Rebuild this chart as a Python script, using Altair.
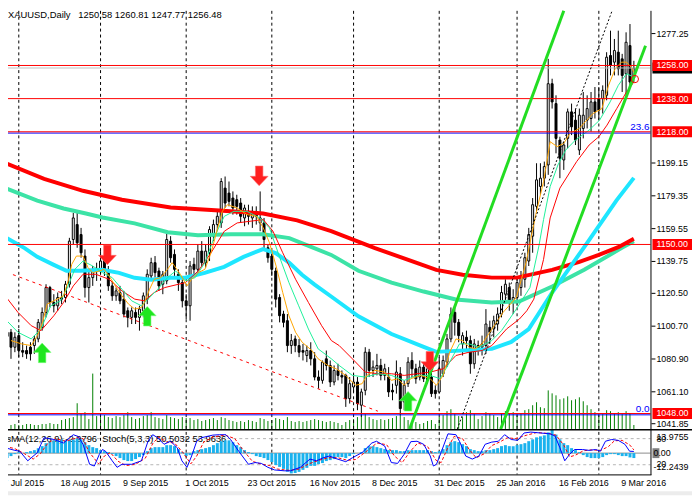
import altair as alt
import pandas as pd

FONT = "Liberation Sans"

# ---------------- values ----------------
# bar index = trading days counted from Mon 27 Jul 2015 (= 0)
bar_i = list(range(2, 164))

opens = [
    1094.5, 1097, 1088, 1095, 1086, 1086, 1088, 1089, 1093, 1100,
    1109, 1124, 1115, 1113, 1118, 1118, 1126, 1153, 1162, 1156,
    1143, 1124, 1130, 1134, 1134, 1141, 1134, 1125, 1119, 1121,
    1117, 1110, 1106, 1109, 1106, 1110, 1117, 1131, 1139, 1134,
    1126, 1128, 1152, 1144, 1132, 1127, 1116, 1113, 1138, 1135,
    1146, 1139, 1145, 1155, 1162, 1163, 1184, 1181, 1178, 1177,
    1175, 1166, 1170, 1166, 1169, 1163, 1163, 1148, 1143, 1134,
    1118, 1108, 1104, 1089, 1093, 1089, 1086, 1083, 1086, 1081,
    1070, 1068, 1081, 1077, 1067, 1074, 1071, 1071, 1057, 1064,
    1067, 1053, 1062, 1085, 1074, 1075, 1077, 1071, 1070, 1062,
    1065, 1072, 1055, 1066, 1080, 1075, 1070, 1076, 1068, 1070,
    1062, 1061, 1072, 1079, 1093, 1109, 1103, 1090, 1094, 1092,
    1078, 1089, 1088, 1089, 1100, 1099, 1102, 1108, 1120, 1124,
    1115, 1118, 1124, 1129, 1140, 1155, 1173, 1185, 1190, 1198,
    1247, 1235, 1213, 1201, 1214, 1230, 1225, 1207, 1220, 1225,
    1226, 1236, 1238, 1238, 1240, 1264, 1260, 1266, 1262, 1253,
    1270, 1250.58,
]
highs = [
    1099, 1099, 1097, 1099, 1091, 1089, 1091, 1095, 1105, 1112,
    1126, 1125, 1120, 1121, 1122, 1128, 1154, 1169, 1170, 1160,
    1147, 1135, 1137, 1139, 1146, 1145, 1137, 1128, 1124, 1125,
    1122, 1112, 1112, 1112, 1113, 1121, 1135, 1142, 1143, 1136,
    1134, 1157, 1155, 1147, 1135, 1129, 1120, 1140, 1142, 1150,
    1152, 1150, 1161, 1165, 1170, 1190, 1191, 1188, 1182, 1180,
    1178, 1174, 1174, 1173, 1173, 1182, 1166, 1150, 1145, 1136,
    1120, 1110, 1108, 1096, 1095, 1093, 1090, 1089, 1091, 1085,
    1074, 1080, 1086, 1080, 1077, 1078, 1074, 1072, 1070, 1072,
    1070, 1063, 1088, 1087, 1080, 1084, 1081, 1078, 1076, 1066,
    1080, 1076, 1068, 1082, 1085, 1078, 1080, 1078, 1082, 1078,
    1065, 1082, 1083, 1096, 1112, 1112, 1105, 1097, 1098, 1095,
    1093, 1092, 1095, 1111, 1104, 1107, 1112, 1125, 1129, 1127,
    1123, 1130, 1134, 1145, 1160, 1178, 1199, 1199, 1200, 1262,
    1250, 1240, 1215, 1212, 1232, 1235, 1232, 1232, 1242, 1240,
    1242, 1245, 1245, 1246, 1266, 1279, 1274, 1279, 1265, 1278,
    1283, 1260.81,
]
lows = [
    1090, 1081, 1085, 1082, 1082, 1081, 1080, 1084, 1091, 1098,
    1106, 1112, 1109, 1110, 1114, 1115, 1124, 1150, 1148, 1142,
    1118, 1115, 1125, 1128, 1132, 1131, 1122, 1116, 1116, 1114,
    1106, 1100, 1102, 1102, 1098, 1106, 1114, 1128, 1130, 1122,
    1120, 1126, 1139, 1131, 1122, 1112, 1105, 1104, 1132, 1133,
    1137, 1136, 1140, 1152, 1158, 1160, 1172, 1173, 1168, 1168,
    1163, 1161, 1162, 1160, 1162, 1158, 1147, 1139, 1131, 1112,
    1103, 1100, 1085, 1084, 1085, 1082, 1080, 1079, 1077, 1068,
    1063, 1066, 1074, 1064, 1065, 1068, 1066, 1052, 1054, 1061,
    1050, 1046, 1059, 1070, 1070, 1071, 1068, 1068, 1058, 1056,
    1060, 1047, 1050, 1064, 1070, 1066, 1068, 1067, 1066, 1058,
    1057, 1060, 1070, 1076, 1091, 1095, 1091, 1083, 1085, 1072,
    1075, 1083, 1083, 1084, 1090, 1094, 1098, 1106, 1115, 1110,
    1108, 1113, 1119, 1124, 1137, 1145, 1170, 1180, 1185, 1192,
    1232, 1205, 1190, 1195, 1208, 1216, 1210, 1204, 1214, 1220,
    1218, 1226, 1225, 1229, 1237, 1252, 1252, 1252, 1242, 1240,
    1246, 1247.77,
]
closes = [
    1097, 1088, 1094, 1086, 1085, 1084, 1084, 1093, 1103, 1109,
    1124, 1115, 1113, 1118, 1117, 1126, 1152, 1166, 1151, 1145,
    1124, 1130, 1134, 1135, 1140, 1134, 1125, 1119, 1122, 1116,
    1108, 1106, 1110, 1106, 1111, 1119, 1132, 1139, 1133, 1125,
    1132, 1153, 1142, 1135, 1127, 1116, 1113, 1137, 1135, 1146,
    1139, 1146, 1159, 1162, 1167, 1188, 1175, 1176, 1172, 1173,
    1167, 1172, 1167, 1170, 1167, 1166, 1153, 1142, 1135, 1117,
    1107, 1103, 1089, 1092, 1089, 1085, 1085, 1086, 1081, 1070,
    1068, 1079, 1077, 1067, 1074, 1071, 1070, 1057, 1066, 1067,
    1054, 1061, 1085, 1074, 1076, 1077, 1071, 1075, 1061, 1061,
    1073, 1051, 1065, 1079, 1075, 1069, 1076, 1069, 1075, 1060,
    1060, 1075, 1080, 1093, 1108, 1103, 1095, 1095, 1092, 1078,
    1090, 1087, 1090, 1102, 1097, 1104, 1108, 1121, 1126, 1115,
    1118, 1127, 1130, 1142, 1156, 1174, 1189, 1190, 1197, 1247,
    1236, 1214, 1202, 1210, 1230, 1221, 1213, 1228, 1228, 1232,
    1236, 1230, 1231, 1243, 1263, 1258, 1267, 1256, 1252, 1272,
    1248, 1256.48,
]
volumes = [
    4, 4, 5, 4, 4, 5, 5, 4, 4, 5,
    5, 6, 5, 5, 9, 10, 11, 12, 26, 15,
    17, 10, 56, 13, 12, 14, 12, 11, 13, 12,
    14, 17, 12, 10, 11, 13, 14, 17, 12, 11,
    10, 14, 12, 11, 10, 12, 11, 11, 9, 10,
    8, 9, 10, 11, 9, 12, 11, 9, 8, 7,
    8, 7, 9, 8, 7, 11, 10, 8, 9, 11,
    10, 9, 12, 8, 7, 8, 7, 8, 9, 10,
    9, 8, 7, 8, 7, 6, 4, 7, 9, 10,
    12, 14, 15, 12, 10, 9, 10, 9, 10, 11,
    13, 15, 12, 9, 8, 7, 5, 6, 8, 9,
    5, 12, 14, 18, 20, 15, 13, 12, 17, 19,
    15, 10, 13, 17, 15, 14, 12, 16, 18, 15,
    17, 14, 16, 19, 20, 24, 27, 22, 21, 39,
    36, 34, 30, 31, 33, 29, 30, 32, 28, 24,
    20, 17, 14, 15, 19, 18, 16, 17, 15, 18,
    16, 4,
]
osma = [
    -3.0, -1.8, -0.6, 0.6, 0.0, 0.6, 1.2, 1.8, 3.0, 4.2,
    6.0, 7.2, 7.7, 7.7, 8.3, 7.7, 7.7, 8.3, 8.9, 8.3,
    6.6, 4.8, 3.6, 3.0, 1.8, 1.2, 0.6, -0.6, -1.8, -3.0,
    -4.2, -4.8, -4.8, -3.6, -2.4, -1.2, 1.2, 3.0, 3.6, 3.6,
    3.6, 4.8, 4.8, 4.2, 2.4, 0.6, -1.8, -1.2, 1.2, 1.8,
    2.4, 3.0, 3.6, 4.8, 6.0, 7.2, 7.7, 7.7, 6.6, 4.8,
    3.6, 1.8, 0.6, -0.6, -1.8, -2.4, -3.0, -4.2, -5.4, -7.2,
    -8.3, -9.5, -11.2, -12.2439, -12.0, -11.3, -10.1, -8.9, -7.7, -7.7,
    -6.6, -6.0, -4.8, -4.2, -3.6, -2.4, -2.4, -3.0, -1.8, -0.6,
    0.0, 0.6, 3.0, 4.2, 4.2, 3.6, 3.0, 2.4, 1.8, 1.8,
    1.8, 1.2, 1.2, 1.8, 1.8, 1.8, 1.8, 1.8, 1.8, 1.2,
    0.6, 1.2, 2.4, 4.8, 6.6, 7.2, 6.6, 5.4, 4.2, 2.4,
    1.8, 1.2, 1.2, 1.8, 1.8, 2.4, 3.0, 4.2, 4.8, 4.2,
    4.2, 4.8, 5.4, 6.0, 7.2, 8.3, 9.5, 10.1, 10.7, 12.5,
    13.9755, 11.2, 8.3, 6.0, 4.8, 3.0, 1.8, 0.6, -1.2, -2.4,
    -3.0, -3.0, -3.0, -2.4, -1.2, -0.6, -0.6, -1.2, -1.8, -1.8,
    -2.6, -2.9796,
]
for arr in (opens, highs, lows, closes, volumes, osma):
    assert len(arr) == len(bar_i)

# moving averages, sampled (bar index, price)
ma_red_thick = [(1.5, 1199.1), (11.5, 1189.6), (21.5, 1182.4), (31.5, 1177.0), (44, 1172.3),
                (56.5, 1170.5), (67.75, 1168.7), (76.5, 1164.5), (85.25, 1158.0), (96.5, 1147.8),
                (106.5, 1139.5), (112.25, 1134.7), (119, 1131.7), (126.5, 1130.0), (133, 1130.0),
                (142, 1134.7), (149, 1139.5), (154, 1143.7), (159, 1148.4), (163, 1153.5)]
ma_mint_thick = [(1.5, 1184.0), (9.75, 1176.5), (16.5, 1171.7), (22.25, 1168.7), (26.5, 1166.3),
                 (34.75, 1162.7), (43.25, 1157.4), (51, 1155.6), (59.5, 1156.2), (67.75, 1156.2),
                 (74.5, 1153.8), (80.25, 1148.4), (85.25, 1143.7), (92.25, 1134.1), (100.75, 1127.0),
                 (109, 1121.6), (117.25, 1116.8), (126.5, 1115.0), (133.5, 1115.6), (142, 1124.6),
                 (150.25, 1134.7), (160.25, 1148.4), (163, 1152.0)]
ma_cyan_thick = [(1.5, 1154.4), (6.5, 1147.8), (9.75, 1142.5), (14, 1137.7), (17.25, 1134.1),
                 (20.75, 1134.1), (26.5, 1134.7), (30.75, 1132.9), (34.75, 1129.9), (39, 1128.7),
                 (44, 1129.9), (47.75, 1129.9), (52.75, 1132.9), (57.75, 1136.5), (62.75, 1142.5),
                 (67.75, 1147.2), (71, 1144.8), (74.5, 1138.9), (77.75, 1131.7), (81, 1125.8),
                 (85.25, 1118.6), (92.25, 1106.7), (100.75, 1096.0), (109, 1088.2), (112.25, 1085.2),
                 (117.25, 1085.8), (126.5, 1087.0), (131.5, 1091.2), (136, 1098.9), (142, 1121.0),
                 (150.25, 1148.4), (158.5, 1176.5), (163, 1190.2)]
ma_orange = [(3, 1092), (5.7, 1090), (8.2, 1089), (9.8, 1095), (11.1, 1103), (12.3, 1114), (14, 1116),
             (16.5, 1119), (17.8, 1129), (18.6, 1138), (19.8, 1143), (21.5, 1143), (22.8, 1136),
             (24, 1133), (25.7, 1134), (26.9, 1135), (28.2, 1131), (29.8, 1125), (31.5, 1119),
             (33.2, 1114), (34.8, 1111), (36.5, 1112), (37.3, 1115), (38.6, 1123), (39.8, 1129),
             (41.5, 1130), (43.2, 1135), (44.4, 1139), (46.5, 1132), (48.2, 1125), (49.4, 1129),
             (51.1, 1133), (52.8, 1135), (54.4, 1145), (56.1, 1160), (57.3, 1170), (58.6, 1174),
             (61.1, 1172), (63.6, 1168), (66.1, 1167), (67.8, 1160), (69.4, 1151), (71.1, 1137),
             (72.8, 1121), (74.4, 1107), (76.1, 1097), (77.8, 1091), (80.3, 1086), (81.9, 1081),
             (84.4, 1077), (86.5, 1075), (89, 1071), (91.5, 1065), (93.2, 1066), (94.4, 1071),
             (96.5, 1074), (99, 1073), (100.7, 1068), (102.3, 1069), (104, 1065), (105.7, 1069),
             (108.2, 1071), (110.7, 1069), (112.3, 1065), (114, 1071), (115.7, 1085), (117.3, 1093),
             (119, 1092), (120.7, 1088), (122.3, 1087), (124, 1090), (125.7, 1096), (129.4, 1109),
             (132.8, 1118), (135.3, 1139), (137.8, 1168), (139.8, 1188), (141.5, 1212), (143.3, 1209),
             (145, 1211), (146.6, 1217), (149, 1220), (150.5, 1224), (152.5, 1229), (154.8, 1232),
             (156.5, 1246), (158.2, 1256), (159.8, 1260), (161.1, 1260), (162.3, 1257), (163, 1254)]
ma_mint_thin = [(1.5, 1105), (4.8, 1097), (8.2, 1093), (10.7, 1099), (13.2, 1113), (15.7, 1116),
                (17.3, 1123), (19.4, 1135), (21.5, 1140), (24, 1137), (26.5, 1133), (29, 1130),
                (31.5, 1123), (34, 1116), (36.5, 1113), (38.2, 1117), (40.7, 1123), (43.2, 1130),
                (45.3, 1134), (47.8, 1128), (50.3, 1130), (52.8, 1139), (55.3, 1155), (57.8, 1167),
                (60.3, 1170), (63.6, 1170), (66.9, 1166), (69.4, 1160), (71.9, 1143), (74.4, 1127),
                (76.9, 1113), (79.4, 1099), (81.9, 1087), (85.3, 1081), (87.3, 1077), (90.7, 1071),
                (94, 1070), (97.3, 1072), (100.7, 1071), (104, 1068), (107.3, 1071), (110.7, 1071),
                (113.2, 1069), (115.7, 1079), (118.2, 1090), (120.7, 1090), (123.2, 1088), (126.5, 1092),
                (129, 1098), (132.8, 1111), (136.3, 1124), (138.6, 1149), (139.8, 1165), (141.5, 1185),
                (143.5, 1198), (145.5, 1207), (148, 1213), (151.5, 1219), (154.2, 1225), (156.9, 1236),
                (159, 1246), (161.1, 1253), (163, 1251)]
ma_red_thin = [(1.5, 1119), (4.8, 1109), (8.2, 1101), (10.7, 1098), (14, 1107), (16.5, 1115),
               (19, 1125), (21.5, 1132), (24.8, 1132), (28.2, 1129), (31.5, 1122), (34.8, 1117),
               (37.3, 1116), (39.8, 1121), (42.5, 1124), (47.8, 1127), (51.1, 1134), (54.4, 1145),
               (57.8, 1158), (61.1, 1163), (64.4, 1164), (67.8, 1165), (70.3, 1158), (72.8, 1145),
               (76.1, 1129), (79.4, 1115), (82.8, 1101), (85.3, 1092), (87.3, 1089), (90.7, 1081),
               (94, 1073), (97.3, 1072), (100.7, 1072), (104, 1071), (107.3, 1072), (110.7, 1073),
               (114, 1075), (117.3, 1083), (120.7, 1085), (124, 1086), (126.5, 1089), (130.3, 1099),
               (133.6, 1105), (135.5, 1110), (137.3, 1117), (139.8, 1141), (141.5, 1166), (144, 1184),
               (148.3, 1200), (151.5, 1210), (154, 1215), (156.1, 1222), (158.6, 1232), (161.1, 1242),
               (163, 1248)]

# trend lines (bar index, price) end points
green_line_1 = [(105.4, 1038.69), (145.0, 1290.97)]
green_line_2 = [(128.8, 1038.69), (166.0, 1269.9)]
black_dotted = [(117.65, 1038.69), (157.4, 1290.97)]
red_dashed = [(3.5, 1131.8), (97.25, 1049.4)]

red_levels = [1258.00, 1238.00, 1218.00, 1150.00, 1048.00]
red_level_labels = ["1258.00", "1238.00", "1218.00", "1150.00", "1048.00"]
fib_levels = [1217.2, 1047.2]
fib_labels = ["23.6", "0.0"]
bid_price = 1256.48

axis_prices = [1277.25, 1199.15, 1179.35, 1159.55, 1139.75, 1120.50, 1100.70, 1080.90, 1061.10, 1041.85]

month_starts = [5, 26, 48, 70, 91, 113, 133, 154]
date_pos = [0, 16, 32, 48, 64, 80, 96, 112, 128, 144, 160]
date_labels = ["27 Jul 2015", "18 Aug 2015", "9 Sep 2015", "1 Oct 2015", "23 Oct 2015",
               "16 Nov 2015", "8 Dec 2015", "31 Dec 2015", "25 Jan 2016", "16 Feb 2016", "9 Mar 2016"]

arrow_i = [11, 27.75, 38, 66.75, 105, 110.6]
arrow_p = [1084.6, 1143.7, 1106.7, 1191.4, 1055.4, 1079.5]
arrow_dir = ["up", "down", "up", "down", "up", "down"]

stoch_main = [(1.5, 59), (4, 53), (5.25, 51), (7.3, 29), (9.8, 48), (10.7, 67), (11.5, 82), (14, 78),
              (16.5, 70), (19, 89), (20.25, 85), (21.5, 67), (23.2, 21), (24.4, 17), (25.7, 44),
              (26.5, 55), (27.3, 51), (29, 29), (30.25, 14), (31.5, 21), (34, 21), (36.5, 29),
              (38.2, 74), (39.4, 89), (40.7, 82), (42.3, 67), (44, 74), (45.7, 59), (46.9, 29),
              (48.2, 14), (49.4, 40), (50.7, 74), (51.9, 82), (54.8, 88), (56.5, 89), (58.2, 89),
              (59.4, 78), (61.5, 51), (64, 21), (65.7, 25), (67.3, 23), (69, 14), (70.7, 8),
              (73.2, 6), (74.8, 6), (77.3, 14), (79.8, 33), (81.5, 29), (83.2, 36), (84.8, 40),
              (86.5, 34), (89, 27), (90.7, 36), (93.2, 48), (95.7, 70), (96.9, 74), (99, 63),
              (100.7, 25), (102.3, 23), (104, 44), (105.7, 73), (107.3, 74), (109, 67), (110.7, 40),
              (111.5, 17), (112.3, 21), (113.6, 51), (115.25, 91), (117.3, 89), (118.2, 74),
              (119.8, 40), (121.5, 33), (123.2, 40), (124.8, 67), (126.5, 72), (128.2, 74),
              (129.8, 89), (131.5, 78), (133.2, 76), (134.8, 93), (136.5, 95), (139, 93), (141.5, 91),
              (142.75, 86), (144, 59), (145.25, 29), (146.5, 44), (147.75, 55), (149.8, 55),
              (151.5, 53), (153.2, 55), (154.4, 51), (155.7, 74), (157.3, 78), (159, 76),
              (160.7, 67), (161.9, 51), (163, 50.5)]
stoch_signal = [(1.5, 62), (4, 57), (6.5, 45), (8.7, 33), (10.5, 45), (12.5, 70), (14.5, 80), (17, 74),
                (20, 82), (21.5, 80), (23, 50), (25.5, 22), (27, 40), (28.5, 48), (30.5, 28), (32.5, 18),
                (35, 21), (37.5, 35), (39.5, 70), (41, 84), (43, 72), (45, 70), (47, 50), (49.2, 22),
                (50.7, 40), (52.5, 72), (55, 84), (58, 88), (60.5, 80), (62.5, 55), (65, 28), (67, 22),
                (69.5, 18), (71.5, 10), (74.5, 7), (77, 10), (79.5, 22), (82, 30), (84.5, 36), (87, 36),
                (89.5, 30), (91.5, 32), (94.5, 52), (97, 70), (99.5, 66), (101.5, 40), (103.5, 25),
                (105.5, 50), (107.5, 70), (110, 62), (112.2, 30), (113.5, 25), (115, 55), (116.8, 85),
                (119, 80), (120.7, 55), (122.5, 36), (124.5, 45), (126.5, 64), (128.5, 72), (130.5, 82),
                (132.5, 80), (135.5, 88), (138, 94), (141, 92), (143, 88), (145, 65), (146.5, 38),
                (148, 42), (150, 52), (152, 54), (154.5, 53), (156.5, 62), (158, 75), (160, 76),
                (162, 65), (163, 54)]

header_text = "XAUUSD,Daily\u00a0\u00a0\u00a01250.58 1260.81 1247.77 1256.48"
ind_text = "OsMA(12,26,9) -2.9796\u00a0\u00a0Stoch(5,3,3) 50.5032 53.9636"

# ---------------- frames ----------------
bars = pd.DataFrame({"i": bar_i, "o": opens, "h": highs, "l": lows, "c": closes,
                     "v": volumes, "osma": osma})
bars["zero"] = 0.0


def pts(pairs, name="p"):
    return pd.DataFrame({"i": [a for a, _ in pairs], name: [b for _, b in pairs]})


# ---------------- scales (pixel ranges inside the 692x490 canvas) ----------------
XS = alt.Scale(domain=[3.5, 166], range=[0, 650])
PY = alt.Scale(domain=[1038.69, 1290.97], range=[423, 0])
VS = alt.Scale(domain=[0, 100], range=[423, 323])
OS = alt.Scale(domain=[-12.2439, 13.9755], range=[468, 424])
SS = alt.Scale(domain=[0, 100], range=[468, 424])


def X(f="i"):
    return alt.X(f, type="quantitative", scale=XS, axis=None)


def Y(f, s):
    return alt.Y(f, type="quantitative", scale=s, axis=None)


one = pd.DataFrame({"k": [0]})
layers = []

# bottom strip
layers.append(alt.Chart(one).mark_rect(color="#ececec").encode(
    x=alt.value(0), x2=alt.value(692), y=alt.value(486), y2=alt.value(490)))

# volumes
layers.append(alt.Chart(bars).mark_rule(color="#008000", strokeWidth=1).encode(
    x=X(), y=Y("v", VS), y2=alt.Y2("zero")))

# month separators
layers.append(alt.Chart(pd.DataFrame({"i": month_starts})).mark_rule(
    color="black", strokeWidth=1, strokeDash=[3, 3]).encode(
    x=X(), y=alt.value(0), y2=alt.value(469)))

# candles
layers.append(alt.Chart(bars).mark_rule(color="black", strokeWidth=1).encode(
    x=X(), y=Y("l", PY), y2=alt.Y2("h")))
layers.append(alt.Chart(bars).mark_bar(size=2, stroke="black", strokeWidth=1).encode(
    x=X(), y=Y("o", PY), y2=alt.Y2("c"),
    fill=alt.condition(alt.datum.c >= alt.datum.o, alt.value("white"), alt.value("black"))))

# moving averages
for data, col, w in [(ma_mint_thick, "#3ce3a6", 4), (ma_red_thick, "#ff0000", 4),
                     (ma_cyan_thick, "#1ee6ff", 4), (ma_red_thin, "#ff0000", 1),
                     (ma_mint_thin, "#1ef09a", 1), (ma_orange, "#ffa500", 1)]:
    layers.append(alt.Chart(pts(data)).mark_line(color=col, strokeWidth=w, clip=True).encode(
        x=X(), y=Y("p", PY), order="i:Q"))

# horizontal levels
layers.append(alt.Chart(pd.DataFrame({"p": [bid_price]})).mark_rule(color="#c0c0c0", strokeWidth=1).encode(
    x=alt.value(0), x2=alt.value(650), y=Y("p", PY)))
layers.append(alt.Chart(pd.DataFrame({"p": fib_levels})).mark_rule(color="#0000ff", strokeWidth=1).encode(
    x=alt.value(0), x2=alt.value(650), y=Y("p", PY)))
layers.append(alt.Chart(pd.DataFrame({"p": red_levels})).mark_rule(color="#ff0000", strokeWidth=1).encode(
    x=alt.value(0), x2=alt.value(650), y=Y("p", PY)))

# trend lines
layers.append(alt.Chart(pts(red_dashed)).mark_line(color="#ff0000", strokeWidth=1, strokeDash=[3, 4]).encode(
    x=X(), y=Y("p", PY)))
layers.append(alt.Chart(pts(black_dotted)).mark_line(color="black", strokeWidth=1, strokeDash=[2, 2]).encode(
    x=X(), y=Y("p", PY)))
for gl in (green_line_1, green_line_2):
    layers.append(alt.Chart(pts(gl)).mark_line(color="#22dd22", strokeWidth=3).encode(
        x=X(), y=Y("p", PY)))

# arrows
arrows = pd.DataFrame({"i": arrow_i, "p": arrow_p, "d": arrow_dir})
UP = "M0,-1.1 L1,-0.05 L0.42,-0.05 L0.42,1.1 L-0.42,1.1 L-0.42,-0.05 L-1,-0.05 Z"
DOWN = "M0,1.1 L1,0.05 L0.42,0.05 L0.42,-1.1 L-0.42,-1.1 L-0.42,0.05 L-1,0.05 Z"
layers.append(alt.Chart(arrows[arrows.d == "up"]).mark_point(
    shape=UP, filled=True, size=324, color="#1fe61f", opacity=1, stroke="#7dff7d", strokeWidth=0.6).encode(
    x=X(), y=Y("p", PY)))
layers.append(alt.Chart(arrows[arrows.d == "down"]).mark_point(
    shape=DOWN, filled=True, size=324, color="#ff2020", opacity=1, stroke="#ff6a6a", strokeWidth=0.6).encode(
    x=X(), y=Y("p", PY)))

# red ring on last bar
layers.append(alt.Chart(pd.DataFrame({"i": [163.25], "p": [1249.8]})).mark_point(
    shape="circle", size=55, filled=False, color="#ff0000", strokeWidth=1, opacity=1).encode(
    x=X(), y=Y("p", PY)))

# fib labels
layers.append(alt.Chart(pd.DataFrame({"p": fib_levels, "t": fib_labels})).mark_text(
    align="right", baseline="middle", dy=-6, font=FONT, fontSize=10, color="#0000ff").encode(
    x=alt.value(649), y=Y("p", PY), text="t:N"))

# ---- indicator window ----
layers.append(alt.Chart(pd.DataFrame({"s": [80, 20]})).mark_rule(
    color="#b4b4b4", strokeWidth=1, strokeDash=[3, 3]).encode(
    x=alt.value(0), x2=alt.value(650), y=Y("s", SS)))
layers.append(alt.Chart(pd.DataFrame({"z": [0.0]})).mark_rule(color="#8c8c8c", strokeWidth=1).encode(
    x=alt.value(0), x2=alt.value(650), y=Y("z", OS)))
layers.append(alt.Chart(one.assign(t=ind_text)).mark_text(
    align="left", baseline="middle", font=FONT, fontSize=9.5, color="black").encode(
    x=alt.value(-9), y=alt.value(433.7), text="t:N"))
layers.append(alt.Chart(bars).mark_bar(size=3, color="#1ab2ee").encode(
    x=X(), y=Y("osma", OS), y2=alt.Y2("zero")))
layers.append(alt.Chart(pts(stoch_signal, "s")).mark_line(
    color="#ff0000", strokeWidth=1, strokeDash=[3, 2]).encode(x=X(), y=Y("s", SS)))
layers.append(alt.Chart(pts(stoch_main, "s")).mark_line(color="#0000ff", strokeWidth=1).encode(
    x=X(), y=Y("s", SS)))

# frame lines
layers.append(alt.Chart(one).mark_rule(color="black", strokeWidth=1.5).encode(
    x=alt.value(0), x2=alt.value(692), y=alt.value(423.75)))
layers.append(alt.Chart(one).mark_rule(color="black", strokeWidth=1).encode(
    x=alt.value(0), x2=alt.value(651), y=alt.value(469.5)))
layers.append(alt.Chart(one).mark_rule(color="black", strokeWidth=1).encode(
    x=alt.value(650.5), y=alt.value(0), y2=alt.value(469.5)))

# header
layers.append(alt.Chart(one.assign(t=header_text)).mark_text(
    align="left", baseline="top", font=FONT, fontSize=9.5, color="black").encode(
    x=alt.value(0), y=alt.value(-1), text="t:N"))

# right price scale
axis_df = pd.DataFrame({"p": axis_prices, "t": [f"{v:.2f}" for v in axis_prices]})
layers.append(alt.Chart(axis_df).mark_rule(color="black", strokeWidth=1).encode(
    x=alt.value(651), x2=alt.value(655), y=Y("p", PY)))
layers.append(alt.Chart(axis_df).mark_text(
    align="left", baseline="middle", font=FONT, fontSize=9, color="black").encode(
    x=alt.value(656), y=Y("p", PY), text="t:N"))

layers.append(alt.Chart(pd.DataFrame({"p": [bid_price]})).mark_rect(
    color="black", yOffset=-5.5, y2Offset=5.5).encode(
    x=alt.value(652), x2=alt.value(692), y=Y("p", PY), y2=alt.Y2("p")))
boxes = pd.DataFrame({"p": red_levels, "t": red_level_labels})
layers.append(alt.Chart(boxes).mark_rect(color="#ff0000", yOffset=-5.5, y2Offset=5.5).encode(
    x=alt.value(652), x2=alt.value(692), y=Y("p", PY), y2=alt.Y2("p")))
layers.append(alt.Chart(boxes).mark_text(
    align="left", baseline="middle", font=FONT, fontSize=9, color="white").encode(
    x=alt.value(656), y=Y("p", PY), text="t:N"))

# indicator scale labels
layers.append(alt.Chart(one).mark_rect(color="#808080").encode(
    x=alt.value(652), x2=alt.value(659), y=alt.value(442.5), y2=alt.value(452.5)))
ind_lab = pd.DataFrame({"t": ["13.9755", "80", "0.00", "20", "-12.2439"],
                        "x": [656, 656, 653, 656, 653], "y": [431, 433.5, 447.5, 458.5, 461.5]})
for _, r in ind_lab.iterrows():
    layers.append(alt.Chart(one.assign(t=r.t)).mark_text(
        align="left", baseline="middle", font=FONT, fontSize=9, color="black").encode(
        x=alt.value(float(r.x)), y=alt.value(float(r.y)), text="t:N"))

# dates
layers.append(alt.Chart(pd.DataFrame({"i": date_pos, "t": date_labels})).mark_text(
    align="left", baseline="middle", dx=-1, font=FONT, fontSize=9, color="black").encode(
    x=X(), y=alt.value(478), text="t:N"))

chart = alt.layer(*layers).resolve_scale(y="independent").properties(
    width=692, height=490, autosize=alt.AutoSizeParams(type="none"), padding=0,
    background="white",
).configure_view(strokeWidth=0)

chart.save("out.html", embed_options={"renderer": "svg", "actions": False})
